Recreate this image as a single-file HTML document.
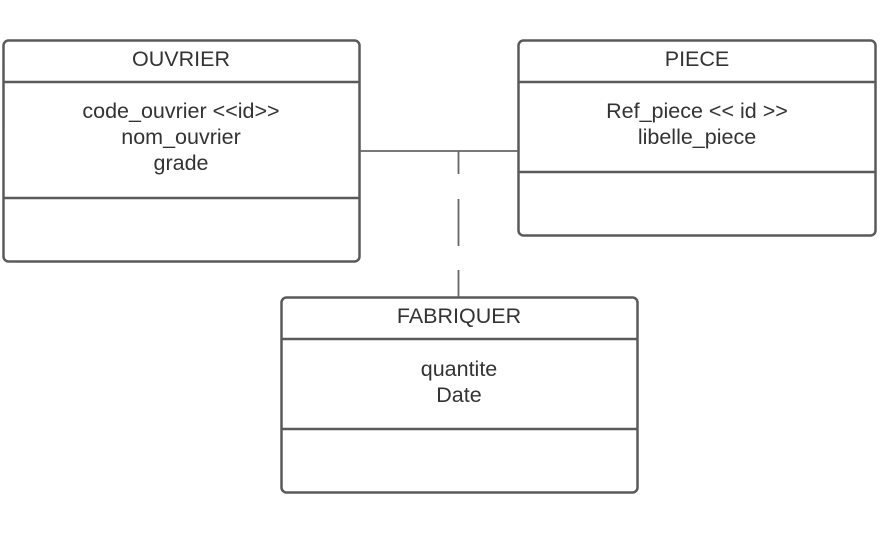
<!DOCTYPE html>
<html><head><style>
body{margin:0;background:#fff;width:886px;height:533px;overflow:hidden}
svg text{font-family:"Liberation Sans",sans-serif;font-size:21.5px;fill:#333;text-anchor:middle}
</style></head><body>
<svg width="886" height="533" xmlns="http://www.w3.org/2000/svg">
<g fill="none" stroke="#5a5a5a" stroke-width="2.5">
<rect x="3.5" y="40.5" width="356" height="221" rx="5"/>
<line x1="3.5" y1="82" x2="359.5" y2="82"/>
<line x1="3.5" y1="198" x2="359.5" y2="198"/>
<rect x="518.5" y="40.5" width="357" height="195" rx="5"/>
<line x1="518.5" y1="82" x2="875.5" y2="82"/>
<line x1="518.5" y1="172" x2="875.5" y2="172"/>
<rect x="281.5" y="297.5" width="356" height="195" rx="5"/>
<line x1="281.5" y1="339" x2="637.5" y2="339"/>
<line x1="281.5" y1="429" x2="637.5" y2="429"/>
</g>
<g stroke="#666" stroke-width="1.8" fill="none">
<line x1="360" y1="151" x2="518" y2="151"/>
<line x1="458.5" y1="151" x2="458.5" y2="174"/>
<line x1="458.5" y1="199" x2="458.5" y2="246"/>
<line x1="458.5" y1="270" x2="458.5" y2="297"/>
</g>
<text x="181" y="66">OUVRIER</text>
<text x="181" y="118">code_ouvrier &lt;&lt;id&gt;&gt;</text>
<text x="181" y="144">nom_ouvrier</text>
<text x="181" y="170">grade</text>
<text x="697" y="66">PIECE</text>
<text x="697" y="118">Ref_piece &lt;&lt; id &gt;&gt;</text>
<text x="697" y="144">libelle_piece</text>
<text x="459" y="323">FABRIQUER</text>
<text x="459" y="376">quantite</text>
<text x="459" y="402">Date</text>
</svg>
</body></html>
